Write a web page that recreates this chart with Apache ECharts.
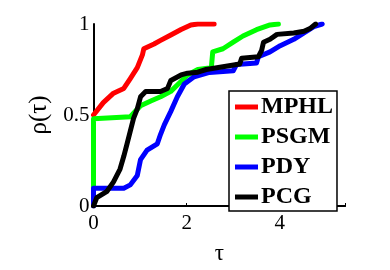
<!DOCTYPE html>
<html>
<head>
<meta charset="utf-8">
<script src="https://cdn.jsdelivr.net/npm/echarts@6/dist/echarts.min.js"></script>
<style>html,body{margin:0;padding:0;background:#fff}#c{width:390px;height:270px}</style>
</head>
<body>
<div id="c"></div>
<script>
var seriesNames = ['MPHL', 'PSGM', 'PDY', 'PCG'];
var seriesColors = ['#ff0000', '#00ff00', '#0000ff', '#000000'];

var mphlX = [0, 0.21, 0.43, 0.65, 0.79, 0.94, 1.05, 1.08, 1.30, 1.44, 1.66, 1.88, 2.09, 2.24, 2.59];
var mphlY = [0.50, 0.568, 0.62, 0.646, 0.70, 0.76, 0.83, 0.864, 0.89, 0.91, 0.94, 0.97, 0.995, 1, 1];

var psgmX = [0, 0, 0.79, 1.01, 1.23, 1.44, 1.66, 1.80, 2.02, 2.24, 2.53, 2.56, 2.78, 3.0, 3.21, 3.5, 3.79, 3.97];
var psgmY = [0.08, 0.48, 0.49, 0.551, 0.577, 0.60, 0.63, 0.665, 0.72, 0.75, 0.76, 0.847, 0.864, 0.90, 0.934, 0.969, 0.995, 1];

var pdyX = [0, 0, 0.65, 0.79, 0.94, 1.01, 1.15, 1.37, 1.44, 1.52, 1.66, 1.80, 1.95, 2.16, 2.49, 3.0, 3.07, 3.5, 3.54, 3.79, 4.01, 4.30, 4.52, 4.73, 4.91];
var pdyY = [0, 0.098, 0.098, 0.116, 0.168, 0.255, 0.307, 0.342, 0.394, 0.446, 0.52, 0.60, 0.67, 0.71, 0.734, 0.743, 0.777, 0.786, 0.82, 0.847, 0.881, 0.916, 0.951, 0.986, 1];

var pcgX = [0, 0.07, 0.29, 0.43, 0.57, 0.65, 0.72, 0.79, 0.86, 0.94, 1.01, 1.12, 1.44, 1.59, 1.66, 1.88, 2.02, 2.24, 2.42, 3.14, 3.18, 3.54, 3.61, 3.65, 3.79, 3.94, 4.30, 4.52, 4.66, 4.77];
var pcgY = [0, 0.046, 0.081, 0.133, 0.203, 0.273, 0.342, 0.411, 0.481, 0.534, 0.60, 0.629, 0.629, 0.646, 0.69, 0.72, 0.73, 0.735, 0.75, 0.78, 0.812, 0.82, 0.855, 0.90, 0.916, 0.943, 0.951, 0.96, 0.977, 1];

var xTicks = [0, 2, 4];
var yTickLabels = {'0': '0', '0.5': '0.5', '1': '1'};

function pairs(xs, ys) { return xs.map(function (x, i) { return [x, ys[i]]; }); }
var allX = [mphlX, psgmX, pdyX, pcgX];
var allY = [mphlY, psgmY, pdyY, pcgY];

var serif = '"Liberation Serif","DejaVu Serif",serif';
var chart = echarts.init(document.getElementById('c'), null, {renderer: 'canvas'});
chart.setOption({
  animation: false,
  backgroundColor: '#fff',
  grid: {left: 93.5, top: 24, right: 45, bottom: 54.5, containLabel: false},
  xAxis: [{
    type: 'value', min: 0, max: 5.4, interval: 2,
    axisLine: {show: true, onZero: false, lineStyle: {color: '#000', width: 2}},
    axisTick: {show: true, inside: true, length: 3, lineStyle: {color: '#000'}},
    splitLine: {show: false},
    axisLabel: {color: '#000', fontFamily: serif, fontSize: 21, margin: 7,
      formatter: function (v) { return xTicks.indexOf(v) >= 0 ? String(v) : ''; }},
    name: 'τ', nameLocation: 'middle', nameGap: 36,
    nameTextStyle: {color: '#000', fontFamily: serif, fontSize: 23}
  }, {
    type: 'value', position: 'top', min: 0, max: 5.4,
    axisLine: {show: true, lineStyle: {color: '#000', width: 2}},
    axisTick: {show: false}, axisLabel: {show: false}, splitLine: {show: false}
  }],
  yAxis: {
    type: 'value', min: 0, max: 1, interval: 0.5,
    axisLine: {show: true, onZero: false, lineStyle: {color: '#000', width: 2}},
    axisTick: {show: false},
    splitLine: {show: false},
    axisLabel: {color: '#000', fontFamily: serif, fontSize: 21, margin: 4,
      formatter: function (v) { return yTickLabels[String(v)] || ''; }},
    name: 'ρ(τ)', nameLocation: 'middle', nameGap: 40, nameRotate: 90,
    nameTextStyle: {color: '#000', fontFamily: serif, fontSize: 25}
  },
  legend: {
    orient: 'vertical', left: 229, top: 91,
    padding: [4, 4, 2, 6],
    backgroundColor: '#fff',
    borderColor: '#000', borderWidth: 1.5, borderRadius: 0,
    itemWidth: 23, itemHeight: 5, itemGap: 6,
    icon: 'rect',
    textStyle: {color: '#000', fontFamily: serif, fontWeight: 'bold', fontSize: 24, lineHeight: 24, padding: [0, 0, 0, -2]},
    data: seriesNames
  },
  series: seriesNames.map(function (n, i) {
    return {
      name: n, type: 'line', data: pairs(allX[i], allY[i]),
      showSymbol: false, symbol: 'none', smooth: false,
      lineStyle: {color: seriesColors[i], width: 5, join: 'round', cap: 'round'},
      itemStyle: {color: seriesColors[i]}
    };
  })
});
</script>
</body>
</html>
